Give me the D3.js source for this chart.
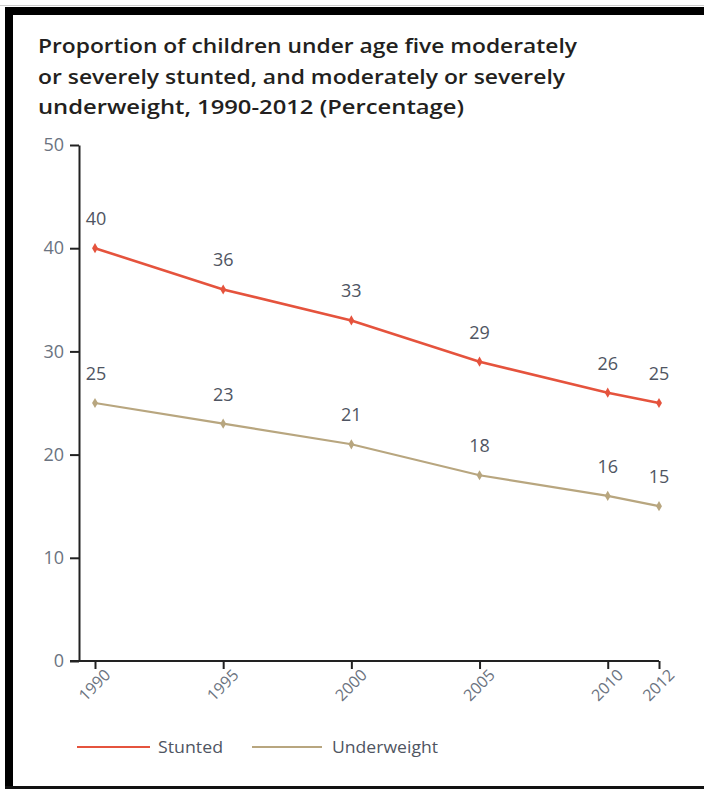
<!DOCTYPE html>
<html>
<head>
<meta charset="utf-8">
<script src="https://cdn.jsdelivr.net/npm/d3@7"></script>
<style>
  html, body { margin: 0; padding: 0; background: #fff; }
  svg { display: block; }
  text { font-family: "Open Sans", "Noto Sans", sans-serif; }
</style>
</head>
<body>
<svg id="chart" width="704" height="789"></svg>
<script>
// Survey years and estimated prevalence (%)
const years = [1990, 1995, 2000, 2005, 2010, 2012];
const stunted = [40, 36, 33, 29, 26, 25];
const underweight = [25, 23, 21, 18, 16, 15];
const yTicks = [0, 10, 20, 30, 40, 50];
const seriesNames = ["Stunted", "Underweight"];
const seriesColors = ["#e5533d", "#b8a67f"];
const titleLines = [
  "Proportion of children under age five moderately",
  "or severely stunted, and moderately or severely",
  "underweight, 1990-2012 (Percentage)"
];

const svg = d3.select("#chart");

// Frame around the figure
svg.append("line").attr("x1", 0).attr("x2", 704).attr("y1", 5.5).attr("y2", 5.5)
  .attr("stroke", "#ccc").attr("stroke-width", 1);
svg.append("rect").attr("x", 5).attr("y", 7).attr("width", 699).attr("height", 8).attr("fill", "#000");
svg.append("rect").attr("x", 5).attr("y", 7).attr("width", 8).attr("height", 782).attr("fill", "#000");
svg.append("rect").attr("x", 5).attr("y", 786).attr("width", 699).attr("height", 3).attr("fill", "#111");

// Title
const titleWidths = [539, 527, 426];
svg.append("g").selectAll("text").data(titleLines).join("text")
  .attr("x", 38).attr("y", (d, i) => 53 + i * 30.5)
  .attr("textLength", (d, i) => titleWidths[i])
  .attr("lengthAdjust", "spacingAndGlyphs")
  .attr("font-size", 20).attr("font-weight", 600).attr("fill", "#231f20")
  .text(d => d);

// Scales
const x = d3.scaleLinear().domain([1990, 2012]).range([95, 659]);
const y = d3.scaleLinear().domain([0, 50]).range([661, 145]);

// Y axis
const yAxis = svg.append("g").attr("transform", "translate(79,0)")
  .call(d3.axisLeft(y).tickValues(yTicks).tickSize(9).tickSizeOuter(0).tickPadding(6));
yAxis.select(".domain").attr("stroke", "#222").attr("stroke-width", 2);
yAxis.selectAll(".tick line").attr("stroke", "#222").attr("stroke-width", 2);
yAxis.selectAll(".tick text").attr("font-size", 18).attr("fill", "#6b7380")
  .style("font-family", "'Open Sans', sans-serif");

// X axis
const xAxis = svg.append("g").attr("transform", "translate(0,661)")
  .call(d3.axisBottom(x).tickValues(years).tickFormat(d3.format("d")).tickSize(8).tickSizeOuter(0));
xAxis.select(".domain").attr("d", `M70,0H${x(2012)}`).attr("stroke", "#222").attr("stroke-width", 2);
xAxis.selectAll(".tick line").attr("stroke", "#222").attr("stroke-width", 2);
xAxis.selectAll(".tick text")
  .attr("font-size", 16).attr("fill", "#6b7380")
  .style("font-family", "'Open Sans', sans-serif")
  .attr("text-anchor", "end")
  .attr("dy", null).attr("y", 0)
  .attr("transform", "translate(16,15) rotate(-45)");

// Lines, markers and value labels
const series = [stunted, underweight];
const line = d3.line().x((d, i) => x(years[i])).y(d => y(d));
const diamond = d3.symbol().type(d3.symbolDiamond).size(30);

series.forEach((vals, s) => {
  const g = svg.append("g");
  g.append("path").datum(vals).attr("d", line)
    .attr("fill", "none").attr("stroke", seriesColors[s]).attr("stroke-width", s === 0 ? 2.6 : 2.2);
  g.selectAll("path.pt").data(vals).join("path").attr("class", "pt")
    .attr("d", diamond)
    .attr("transform", (d, i) => `translate(${x(years[i])},${y(d)})`)
    .attr("fill", seriesColors[s]);
  g.selectAll("text").data(vals).join("text")
    .attr("x", (d, i) => x(years[i]) + (i === 0 ? 1 : 0))
    .attr("y", (d, i) => y(d) - 23)
    .attr("text-anchor", "middle")
    .attr("font-size", 18).attr("fill", "#4f5562")
    .text(d => d);
});

// Legend
const legendX = [77, 252];
const legend = svg.append("g").selectAll("g").data(seriesNames).join("g")
  .attr("transform", (d, i) => `translate(${legendX[i]},747)`);
legend.append("line").attr("x1", 0).attr("x2", (d, i) => i === 0 ? 73 : 70)
  .attr("stroke", (d, i) => seriesColors[i]).attr("stroke-width", 2);
legend.append("text").attr("x", (d, i) => i === 0 ? 81 : 80).attr("y", 6)
  .attr("font-size", 17).attr("fill", "#4f5562")
  .attr("textLength", (d, i) => i === 0 ? 65 : 106)
  .attr("lengthAdjust", "spacingAndGlyphs")
  .text(d => d);
</script>
</body>
</html>
